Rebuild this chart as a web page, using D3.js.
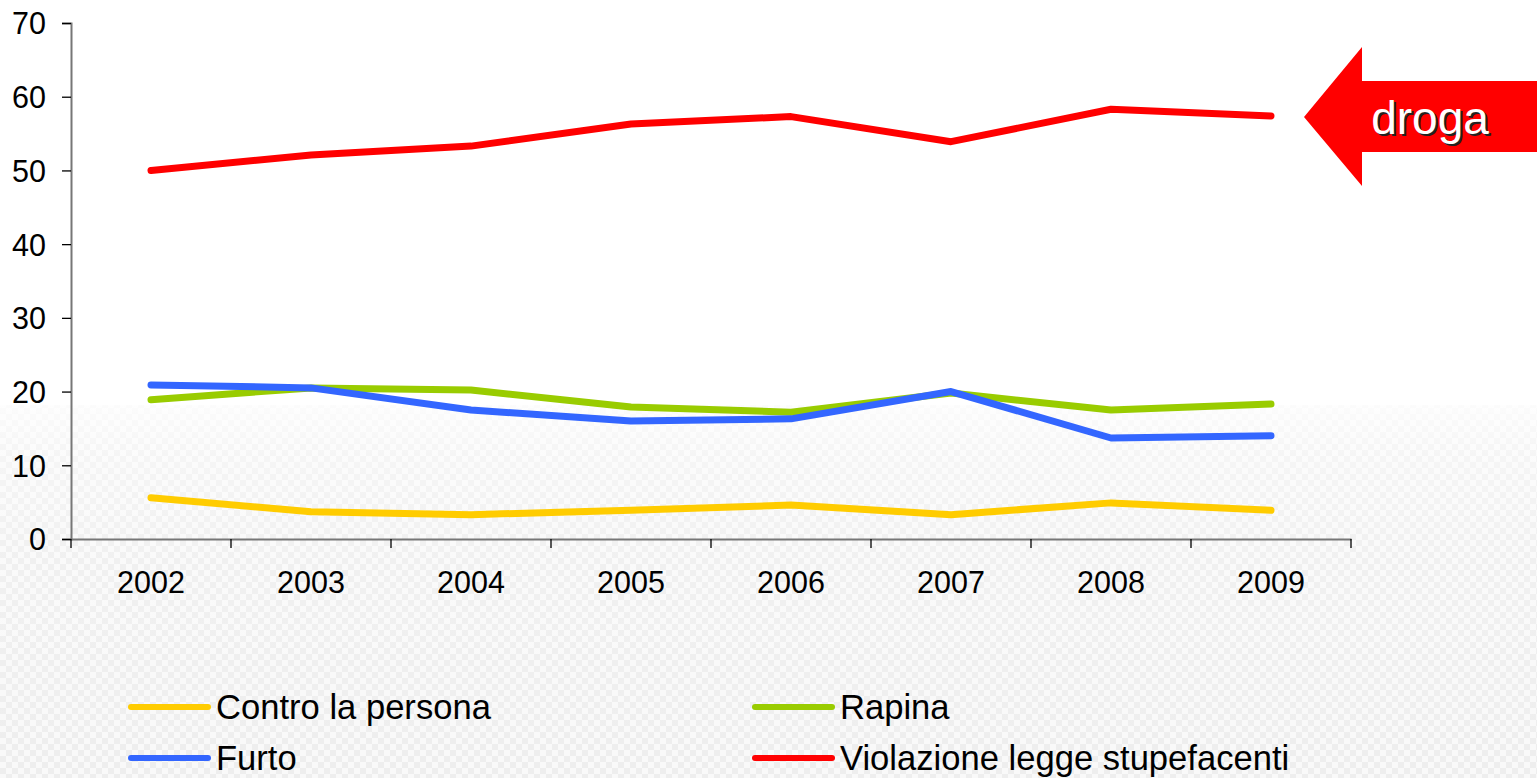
<!DOCTYPE html>
<html>
<head>
<meta charset="utf-8">
<script src="https://cdn.jsdelivr.net/npm/d3@7"></script>
<style>
  html, body { margin: 0; padding: 0; background: #fff; overflow: hidden; }
  text { font-family: "Liberation Sans", Arial, sans-serif; }
</style>
</head>
<body>
<div id="chart"></div>
<script>
// data
const years = ['2002', '2003', '2004', '2005', '2006', '2007', '2008', '2009'];
const contro = [5.6, 3.7, 3.3, 3.9, 4.6, 3.3, 4.9, 3.9];
const rapina = [18.9, 20.5, 20.2, 17.9, 17.2, 19.8, 17.5, 18.3];
const furto = [20.9, 20.5, 17.5, 16.0, 16.3, 20.0, 13.7, 14.0];
const violazione = [50.0, 52.1, 53.3, 56.3, 57.3, 53.9, 58.3, 57.4];
const yTicks = [0, 10, 20, 30, 40, 50, 60, 70];

const seriesNames = ['Contro la persona', 'Rapina', 'Furto', 'Violazione legge stupefacenti'];
const seriesColors = ['#FFCC00', '#99CC00', '#3366FF', '#FF0000'];
const seriesValues = [contro, rapina, furto, violazione];
const drawOrder = [0, 1, 2, 3];

const W = 1537, H = 778;
const plotLeft = 71, plotRight = 1351, plotTop = 23, plotBottom = 539;

const svg = d3.select('#chart').append('svg')
	.attr('width', W)
	.attr('height', H);

// textured background (bottom half)
const defs = svg.append('defs');
const pat = defs.append('pattern')
	.attr('id', 'checks')
	.attr('width', 12).attr('height', 12)
	.attr('patternUnits', 'userSpaceOnUse');
pat.append('rect').attr('width', 12).attr('height', 12).attr('fill', '#f9f9f9');
pat.append('rect').attr('width', 6).attr('height', 6).attr('fill', '#eeeeee');
pat.append('rect').attr('x', 6).attr('y', 6).attr('width', 6).attr('height', 6).attr('fill', '#eeeeee');

const fade = defs.append('linearGradient')
	.attr('id', 'fade')
	.attr('x1', 0).attr('y1', 0).attr('x2', 0).attr('y2', 1);
fade.append('stop').attr('offset', '0%').attr('stop-color', '#fff').attr('stop-opacity', 0.8);
fade.append('stop').attr('offset', '12%').attr('stop-color', '#fff').attr('stop-opacity', 0.45);
fade.append('stop').attr('offset', '40%').attr('stop-color', '#fff').attr('stop-opacity', 0.15);
fade.append('stop').attr('offset', '100%').attr('stop-color', '#fff').attr('stop-opacity', 0);

svg.append('rect').attr('x', 0).attr('y', 0).attr('width', W).attr('height', H).attr('fill', '#fff');
svg.append('rect').attr('x', 0).attr('y', 405).attr('width', W).attr('height', H - 405).attr('fill', 'url(#checks)');
svg.append('rect').attr('x', 0).attr('y', 405).attr('width', W).attr('height', H - 405).attr('fill', 'url(#fade)');

// scales
const x = d3.scaleBand().domain(years).range([plotLeft, plotRight]);
const y = d3.scaleLinear().domain([0, 70]).range([plotBottom, plotTop]);

// axes
const yAxis = svg.append('g')
	.attr('transform', `translate(${plotLeft},0)`)
	.call(d3.axisLeft(y).tickValues(yTicks).tickSize(9).tickPadding(16));
const xAxis = svg.append('g')
	.attr('transform', `translate(0,${plotBottom})`)
	.call(d3.axisBottom(x).tickSize(0).tickPadding(32));

// x tick marks at band edges
const edges = years.map(d => x(d)).concat([plotRight]);
xAxis.selectAll('.edge').data(edges).enter().append('line')
	.attr('class', 'edge')
	.attr('x1', d => d).attr('x2', d => d)
	.attr('y1', 0).attr('y2', 9)
	.attr('stroke', '#000').attr('stroke-width', 1.3);

[yAxis, xAxis].forEach(g => {
	g.select('.domain').attr('stroke', '#777').attr('stroke-width', 2);
	g.selectAll('.tick line').attr('stroke', '#000').attr('stroke-width', 1.3);
	g.selectAll('text')
		.attr('fill', '#000')
		.attr('font-size', 30.5)
		.attr('font-family', '"Liberation Sans", Arial, sans-serif');
});
yAxis.selectAll('text').attr('dy', '0.36em');
xAxis.selectAll('text').attr('dy', '0.71em');

// lines
const line = d3.line()
	.x((d, i) => x(years[i]) + x.bandwidth() / 2)
	.y(d => y(d));

drawOrder.forEach(k => {
	svg.append('path')
		.datum(seriesValues[k])
		.attr('d', line)
		.attr('fill', 'none')
		.attr('stroke', seriesColors[k])
		.attr('stroke-width', 7)
		.attr('stroke-linecap', 'round')
		.attr('stroke-linejoin', 'round');
});

// arrow "droga"
const arrow = svg.append('g');
arrow.append('path')
	.attr('d', 'M1304,117 L1362,47 L1362,81 L1537,81 L1537,152 L1362,152 L1362,186 Z')
	.attr('fill', '#FF0000');
arrow.append('text')
	.attr('x', 1430).attr('y', 134)
	.attr('text-anchor', 'middle')
	.attr('font-size', 46)
	.attr('fill', '#222')
	.attr('transform', 'translate(2,2)')
	.text('droga');
arrow.append('text')
	.attr('x', 1430).attr('y', 134)
	.attr('text-anchor', 'middle')
	.attr('font-size', 46)
	.attr('fill', '#fff')
	.text('droga');

// legend
const legendPos = [[131, 707], [755, 707], [131, 758], [755, 758]];
const legend = svg.append('g');
seriesNames.forEach((name, i) => {
	const [lx, ly] = legendPos[i];
	legend.append('line')
		.attr('x1', lx).attr('x2', lx + 77)
		.attr('y1', ly).attr('y2', ly)
		.attr('stroke', seriesColors[i])
		.attr('stroke-width', 6)
		.attr('stroke-linecap', 'round');
	legend.append('text')
		.attr('x', lx + 85).attr('y', ly + 12)
		.attr('font-size', 34.6)
		.attr('fill', '#000')
		.text(name);
});
</script>
</body>
</html>
